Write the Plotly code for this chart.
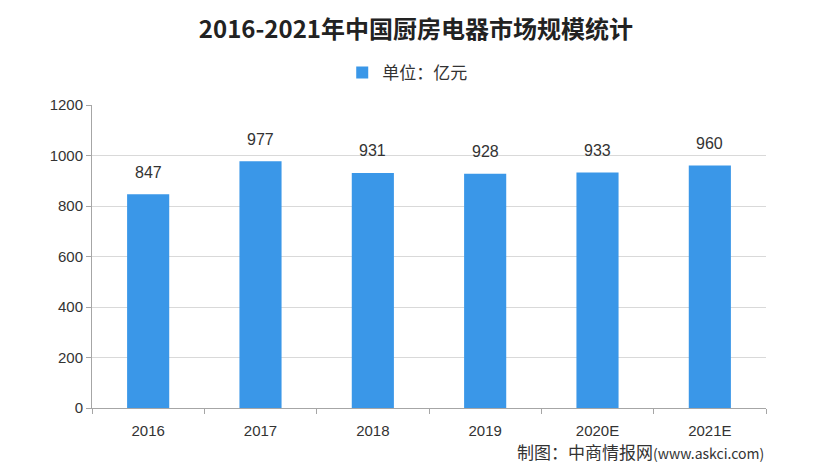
import plotly.graph_objects as go

categories = ["2016", "2017", "2018", "2019", "2020E", "2021E"]
values = [847, 977, 931, 928, 933, 960]
y_ticks = [0, 200, 400, 600, 800, 1000, 1200]
title_text = "2016-2021年中国厨房电器市场规模统计"
series_name = "单位：亿元"
source_cn = "制图：中商情报网"
source_url = "(www.askci.com)"

bar_color = "#3A97E8"

fig = go.Figure()
fig.add_trace(go.Bar(
    x=categories, y=values, name=series_name,
    marker=dict(color=bar_color, line=dict(width=0)),
))

for i, v in enumerate(values):
    fig.add_annotation(x=i, y=v, text=str(v), showarrow=False, yshift=22,
                       xanchor="center", yanchor="middle",
                       font=dict(size=16, color="#333333", family="Liberation Sans, Arial, sans-serif"))

fig.update_layout(
    width=830, height=474,
    paper_bgcolor="white", plot_bgcolor="white",
    margin=dict(l=84, r=72, t=97, b=74, autoexpand=False),
    bargap=0.625,
    title=dict(text="<b>" + title_text + "</b>", x=0.4915, xref="container", xanchor="center",
               y=0.955, yref="container", yanchor="middle",
               font=dict(size=24, color="#222222", family="Noto Sans CJK SC, sans-serif")),
    showlegend=True,
    legend=dict(orientation="h", x=0.481, xref="container", xanchor="center",
                y=0.863, yref="container", yanchor="middle",
                font=dict(size=17, color="#333333", family="Noto Sans CJK SC, sans-serif"),
                itemwidth=30),
    font=dict(family="Liberation Sans, Arial, sans-serif", color="#333333"),
)

fig.update_yaxes(range=[0, 1200], tickvals=y_ticks, showgrid=True, gridcolor="#D9D9D9", gridwidth=1,
                 showline=True, linecolor="#A6A6A6", linewidth=1, ticks="outside", ticklen=5,
                 tickcolor="#A6A6A6", tickfont=dict(size=15, color="#333333"), zeroline=False,
                 automargin=False)
fig.update_xaxes(type="category", categoryorder="array", categoryarray=categories,
                 range=[-0.5, len(categories) - 0.5],
                 showline=True, linecolor="#A6A6A6", linewidth=1, ticks="outside", ticklen=5,
                 tickcolor="#A6A6A6", tickson="boundaries", tickfont=dict(size=15, color="#333333"),
                 ticklabelstandoff=9, automargin=False)

fig.add_annotation(text=source_cn + "<span style='font-size:14px'>" + source_url + "</span>",
                   xref="paper", yref="paper", x=1.0, y=-0.145,
                   xanchor="right", yanchor="middle", showarrow=False,
                   font=dict(size=17, color="#333333", family="Noto Sans CJK SC, sans-serif"))

fig.write_html("out.html")
